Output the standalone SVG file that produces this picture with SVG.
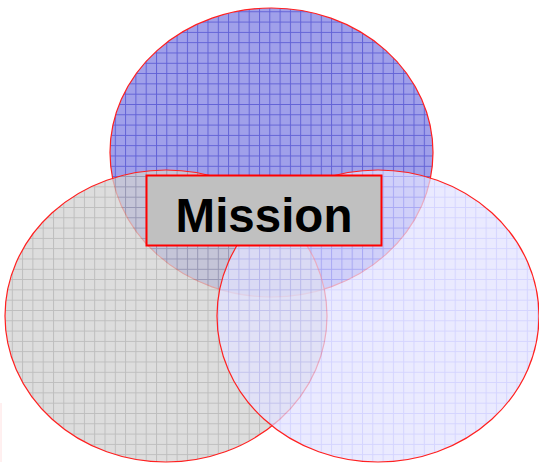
<svg xmlns="http://www.w3.org/2000/svg" width="539" height="465" viewBox="0 0 539 465">
<defs>
<pattern id="pBlue" patternUnits="userSpaceOnUse" x="1.5" y="1" width="10.3" height="10.3">
<rect width="10.3" height="10.3" fill="#a0a0ea"/>
<path d="M0 0.5H10.3M0.5 0V10.3" stroke="#6262d6" stroke-width="1"/>
</pattern>
<pattern id="pGray" patternUnits="userSpaceOnUse" x="1.5" y="1" width="10.3" height="10.3">
<rect width="10.3" height="10.3" fill="#d2d2d2"/>
<path d="M0 0.5H10.3M0.5 0V10.3" stroke="#a8a8a8" stroke-width="1"/>
</pattern>
<pattern id="pLight" patternUnits="userSpaceOnUse" x="1.5" y="1" width="10.3" height="10.3">
<rect width="10.3" height="10.3" fill="#e2e2ff"/>
<path d="M0 0.5H10.3M0.5 0V10.3" stroke="#c4c4ff" stroke-width="1"/>
</pattern>
</defs>
<style>
.ell{stroke:#ff2020;stroke-width:1.2}
.label{font-family:"Liberation Sans",Arial,sans-serif;font-weight:bold;font-size:47.5px;fill:#000}
</style>
<rect width="539" height="465" fill="#fff"/>
<line x1="1" y1="403" x2="1" y2="462" stroke="#ffe0e0" stroke-width="1"/>
<g id="top">
<ellipse class="ell" cx="271.5" cy="152.5" rx="161.5" ry="144.5" fill="url(#pBlue)"/>
</g>
<g id="left">
<ellipse class="ell" cx="166" cy="316" rx="161" ry="146" fill="url(#pGray)" fill-opacity="0.75"/>
</g>
<g id="right">
<ellipse class="ell" cx="378" cy="316" rx="161" ry="146" fill="url(#pLight)" fill-opacity="0.72"/>
</g>
<g id="mission">
<rect x="146.5" y="175.5" width="235" height="70" fill="#c0c0c0" stroke="#ff0000" stroke-width="2"/>
<text class="label" x="264" y="232" text-anchor="middle">Mission</text>
</g>
<g id="connectors"/>
</svg>
